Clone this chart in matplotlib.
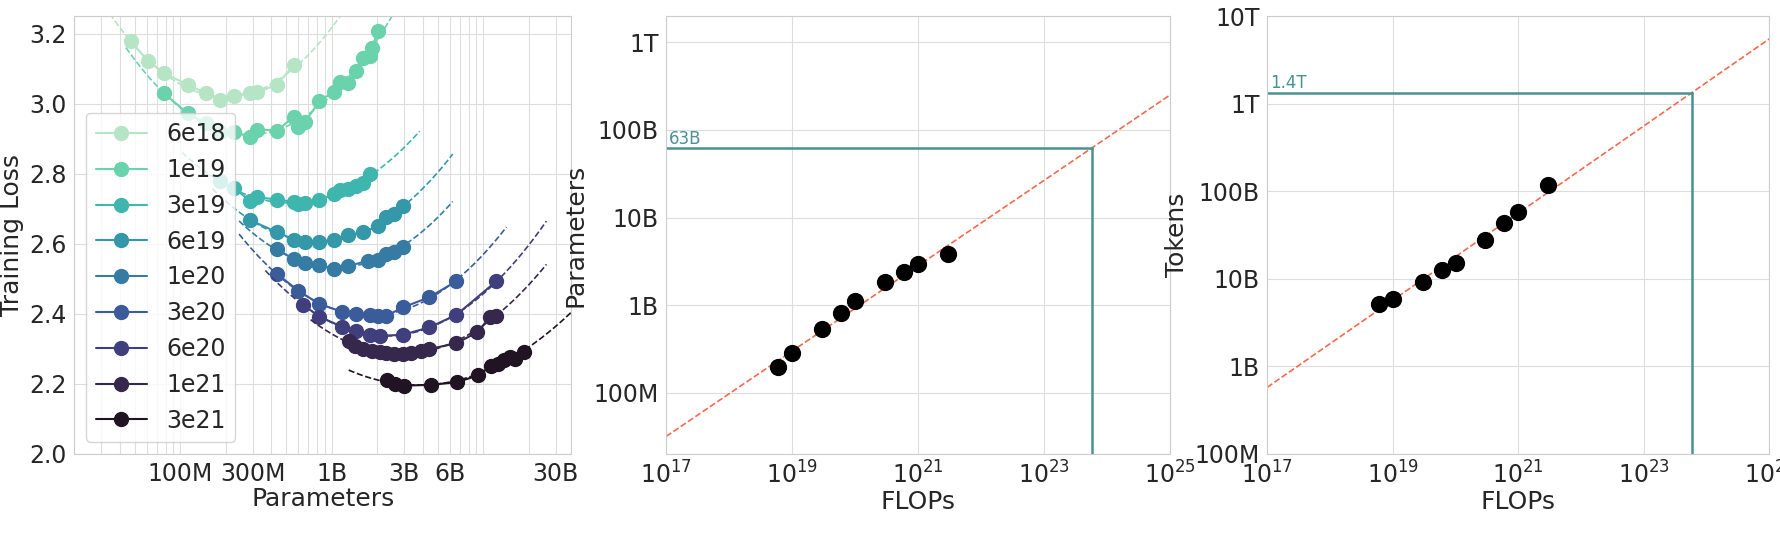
import numpy as np
import matplotlib
matplotlib.use("Agg")
import matplotlib.pyplot as plt
import matplotlib.ticker as mticker
import seaborn as sns

sns.set_style("whitegrid")
plt.rcParams['font.family'] = ['DejaVu Sans']

# IsoFLOP curves: parameters (millions) and training loss per compute budget
budgets = ['6e18', '1e19', '3e19', '6e19', '1e20', '3e20', '6e20', '1e21', '3e21']

params_6e18 = [47, 61, 78, 112, 147, 183, 225, 290, 320, 435, 564]
loss_6e18 = [3.178, 3.123, 3.087, 3.054, 3.030, 3.011, 3.023, 3.030, 3.032, 3.054, 3.111]

params_1e19 = [78, 112, 147, 183, 225, 290, 320, 435, 564, 601, 665, 828, 1028, 1135,
               1288, 1435, 1610, 1780, 1830, 2020]
loss_1e19 = [3.030, 2.972, 2.944, 2.918, 2.920, 2.904, 2.926, 2.923, 2.963, 2.934, 2.948,
             3.006, 3.034, 3.063, 3.058, 3.092, 3.130, 3.135, 3.158, 3.206]

params_3e19 = [183, 225, 290, 320, 435, 564, 601, 665, 828, 1028, 1135, 1288, 1435, 1610, 1780]
loss_3e19 = [2.779, 2.760, 2.722, 2.733, 2.726, 2.719, 2.714, 2.716, 2.724, 2.743, 2.753,
             2.757, 2.764, 2.772, 2.800]

params_6e19 = [290, 435, 564, 665, 828, 1028, 1288, 1610, 2020, 2290, 2590, 2940]
loss_6e19 = [2.667, 2.633, 2.612, 2.606, 2.606, 2.612, 2.624, 2.633, 2.650, 2.676, 2.684, 2.708]

params_1e20 = [435, 564, 665, 828, 1028, 1288, 1740, 2020, 2290, 2590, 2940]
loss_1e20 = [2.585, 2.555, 2.545, 2.538, 2.528, 2.536, 2.552, 2.554, 2.571, 2.576, 2.592]

params_3e20 = [435, 601, 828, 1164, 1435, 1780, 2020, 2290, 2940, 4390, 6650]
loss_3e20 = [2.514, 2.466, 2.428, 2.406, 2.399, 2.396, 2.394, 2.394, 2.418, 2.447, 2.493]

params_6e20 = [649, 828, 1164, 1435, 1780, 2070, 2940, 4390, 6650, 12200]
loss_6e20 = [2.425, 2.392, 2.363, 2.351, 2.340, 2.337, 2.340, 2.361, 2.397, 2.493]

params_1e21 = [1290, 1420, 1610, 1830, 2070, 2290, 2590, 2940, 3330, 3870, 4390, 6650,
               9100, 11100, 12200]
loss_1e21 = [2.321, 2.309, 2.299, 2.295, 2.290, 2.288, 2.285, 2.285, 2.288, 2.294, 2.299,
             2.316, 2.347, 2.390, 2.395]

params_3e21 = [2300, 2600, 3000, 4500, 6750, 9200, 11300, 12500, 13800, 14900, 16100, 18500]
loss_3e21 = [2.210, 2.200, 2.195, 2.197, 2.205, 2.224, 2.252, 2.257, 2.267, 2.276, 2.271, 2.290]

iso_params = [params_6e18, params_1e19, params_3e19, params_6e19, params_1e20,
              params_3e20, params_6e20, params_1e21, params_3e21]
iso_loss = [loss_6e18, loss_1e19, loss_3e19, loss_6e19, loss_1e20,
            loss_3e20, loss_6e20, loss_1e21, loss_3e21]

# optimal points per budget
opt_flops = [6e18, 1e19, 3e19, 6e19, 1e20, 3e20, 6e20, 1e21, 3e21]
opt_params = [1.95e8, 2.81e8, 5.37e8, 8.04e8, 1.10e9, 1.84e9, 2.36e9, 2.96e9, 3.80e9]
opt_tokens = [5.2e9, 5.9e9, 9.3e9, 1.25e10, 1.53e10, 2.79e10, 4.38e10, 5.73e10, 1.17e11]

gopher_flops = 5.76e23
param_label = '63B'
token_label = '1.4T'

# fitted lines: log10(y) at 1e17 and at 1e25 FLOPs
param_fit_ends = [7.50, 11.40]
token_fit_ends = [8.76, 12.74]

fit_color = '#4b9191'
line_color = '#f46a4e'

cmap = sns.color_palette("mako", as_cmap=True)
colors = cmap(np.linspace(0.92, 0.08, 9))

fig = plt.figure(figsize=(17.81, 5.34), dpi=100)
ax1 = fig.add_axes([0.0417, 0.15, 0.279, 0.82])
ax2 = fig.add_axes([0.374, 0.15, 0.283, 0.82])
ax3 = fig.add_axes([0.7115, 0.15, 0.282, 0.82])

# --- left panel: IsoFLOP curves
for name, p, l, c in zip(budgets, iso_params, iso_loss, colors):
    n = np.array(p) * 1e6
    l = np.array(l)
    order = np.argsort(n)
    coef = np.polyfit(np.log10(n), l, 2)
    xs = np.linspace(np.log10(n.min()) - 0.25, np.log10(n.max()) + 0.33, 100)
    ax1.plot(10 ** xs, np.polyval(coef, xs), '--', color=c, lw=1.2)
    ax1.plot(n[order], l[order], '-o', color=c, markersize=10, lw=1.5, label=name)

ax1.set_xscale('log')
ax1.set_xlim(2e7, 3.8e10)
ax1.set_ylim(2.0, 3.25)
ax1.set_xticks([1e8, 3e8, 1e9, 3e9, 6e9, 3e10])
ax1.set_xticklabels(['100M', '300M', '1B', '3B', '6B', '30B'])
ax1.xaxis.set_minor_locator(mticker.LogLocator(base=10, subs=np.arange(1, 10), numticks=20))
ax1.xaxis.set_minor_formatter(mticker.NullFormatter())
ax1.set_yticks([2.0, 2.2, 2.4, 2.6, 2.8, 3.0, 3.2])
ax1.grid(True, which='both', color='#dddddd')
ax1.set_xlabel('Parameters', fontsize=18, labelpad=1)
ax1.set_ylabel('Training Loss', fontsize=18)
ax1.tick_params(labelsize=17, pad=2)
ax1.legend(loc='lower left', fontsize=17, frameon=True, bbox_to_anchor=(0.0, 0.0),
           handlelength=2.2)

# --- middle and right panels: optimal scaling
def scaling_panel(ax, ys, ends, label, ylabel, ylim, yticks, yticklabels):
    ax.scatter(opt_flops, ys, s=130, color='black', zorder=3)
    xs = np.array([1e17, 1e25])
    ax.plot(xs, 10 ** np.array(ends), '--', color=line_color, lw=1.2, zorder=2)
    slope = (ends[1] - ends[0]) / 8.0
    y_at = 10 ** (ends[0] + slope * (np.log10(gopher_flops) - 17))
    ax.plot([1e17, gopher_flops], [y_at, y_at], color=fit_color, lw=1.8)
    ax.plot([gopher_flops, gopher_flops], [ylim[0], y_at], color=fit_color, lw=1.8)
    ax.text(1.1e17, y_at * 1.12, label, color=fit_color, fontsize=12)
    ax.set_xscale('log')
    ax.set_yscale('log')
    ax.set_xlim(1e17, 1e25)
    ax.set_ylim(*ylim)
    ax.set_xticks([1e17, 1e19, 1e21, 1e23, 1e25])
    ax.set_xticklabels([r'$10^{17}$', r'$10^{19}$', r'$10^{21}$', r'$10^{23}$', r'$10^{25}$'])
    ax.xaxis.set_minor_locator(mticker.NullLocator())
    ax.set_yticks(yticks)
    ax.set_yticklabels(yticklabels)
    ax.yaxis.set_minor_locator(mticker.NullLocator())
    ax.grid(True, color='#dddddd')
    ax.set_xlabel('FLOPs', fontsize=18, labelpad=1)
    ax.set_ylabel(ylabel, fontsize=18)
    ax.tick_params(labelsize=17, pad=2)

scaling_panel(ax2, opt_params, param_fit_ends, param_label, 'Parameters', (2e7, 2e12),
              [1e8, 1e9, 1e10, 1e11, 1e12], ['100M', '1B', '10B', '100B', '1T'])
scaling_panel(ax3, opt_tokens, token_fit_ends, token_label, 'Tokens', (1e8, 1e13),
              [1e8, 1e9, 1e10, 1e11, 1e12, 1e13], ['100M', '1B', '10B', '100B', '1T', '10T'])

for ax in (ax1, ax2, ax3):
    for s in ax.spines.values():
        s.set_color('#cccccc')

fig.savefig('out.png', dpi=100)
